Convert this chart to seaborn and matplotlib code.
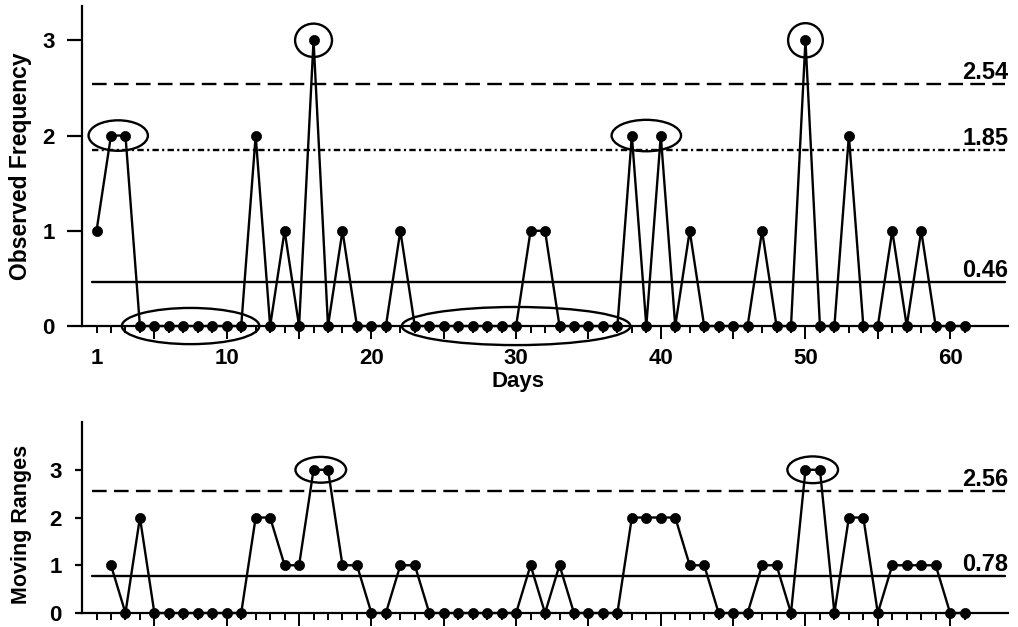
"""
Individuals (X) and moving range control charts for daily counts.
Saves the figure to out.png
"""

import matplotlib
matplotlib.use('Agg')
import matplotlib.pyplot as plt
from matplotlib.patches import Ellipse
from matplotlib.ticker import FixedLocator, FuncFormatter
import seaborn as sns

# ── data ───────────────────────────────────────────────────
days = list(range(1, 62))
observed = [1, 2, 2, 0, 0, 0, 0, 0, 0, 0, 0, 2, 0, 1, 0, 3, 0, 1, 0, 0,
            0, 1, 0, 0, 0, 0, 0, 0, 0, 0, 1, 1, 0, 0, 0, 0, 0, 2, 0, 2,
            0, 1, 0, 0, 0, 0, 1, 0, 0, 3, 0, 0, 2, 0, 0, 1, 0, 1, 0, 0, 0]

mr_days = list(range(2, 62))
moving_ranges = [1, 0, 2, 0, 0, 0, 0, 0, 0, 0,
                 2, 2, 1, 1, 3, 3, 1, 1, 0, 0,
                 1, 1, 0, 0, 0, 0, 0, 0, 0, 1,
                 0, 1, 0, 0, 0, 0, 2, 2, 2, 2,
                 1, 1, 0, 0, 0, 1, 1, 0, 3, 3,
                 0, 2, 2, 0, 1, 1, 1, 1, 0, 0]

x_center = 0.46
x_ucl = 2.54
x_two_sigma = 1.85
mr_center = 0.78
mr_ucl = 2.56

x_ticklabels = [1, 10, 20, 30, 40, 50, 60]
y_ticks = [0, 1, 2, 3]

# flagged runs: (first day, last day, level, ring width in days, ring height)
x_rings = [(2, 3, 2, 4.1, 0.32), (4, 11, 0, 9.5, 0.38), (16, 16, 3, 2.55, 0.35),
           (23, 37, 0, 15.8, 0.40), (38, 40, 2, 4.8, 0.33), (50, 50, 3, 2.4, 0.36)]
mr_rings = [(16, 17, 3, 3.5, 0.54), (50, 51, 3, 3.5, 0.56)]

# ── style ──────────────────────────────────────────────────
sns.set_theme(style="ticks")
plt.rcParams.update({
    'font.family': ['Liberation Sans', 'DejaVu Sans'],
    'font.weight': 'bold',
    'axes.labelweight': 'bold',
    'axes.linewidth': 1.6,
    'axes.edgecolor': 'black',
    'text.color': 'black',
    'axes.labelcolor': 'black',
    'xtick.color': 'black',
    'ytick.color': 'black',
})

X_MAX = 64
LINE_START, LINE_END = 0.7, 63.8
LW = 1.7
DASHED = (6.2, 3.1)
DASHDOT = (2.7, 1.4, 0.9, 1.4)


def style_axis(ax, ymax, ytick_len, ytick_pad, show_labels):
    ax.set_xlim(0, X_MAX)
    ax.set_ylim(0, ymax)
    for side in ('top', 'right'):
        ax.spines[side].set_visible(False)
    ax.set_yticks(y_ticks)
    ax.tick_params(axis='y', length=ytick_len, width=1.6, pad=ytick_pad,
                   labelsize=16)
    major = [d for d in range(5, 61, 5)]
    minor = [d for d in range(1, 62) if d % 5]
    ax.xaxis.set_major_locator(FixedLocator(major))
    ax.xaxis.set_minor_locator(FixedLocator(minor))
    if show_labels:
        ax.xaxis.set_major_formatter(FuncFormatter(
            lambda v, p: f'{int(v)}' if int(v) in x_ticklabels else ''))
        ax.xaxis.set_minor_formatter(FuncFormatter(
            lambda v, p: f'{int(v)}' if int(v) in x_ticklabels else ''))
    else:
        ax.set_xticklabels([])
        ax.xaxis.set_minor_formatter(FuncFormatter(lambda v, p: ''))
    ax.tick_params(axis='x', which='major', length=9.5, width=1.4, pad=6,
                   labelsize=16)
    ax.tick_params(axis='x', which='minor', length=5, width=1.4, pad=10.5,
                   labelsize=16)
    ax.grid(False)


def limit_line(ax, value, dashes=None):
    kw = dict(color='black', linewidth=LW)
    if dashes is not None:
        kw['dashes'] = dashes
    ax.axhline(value, xmin=LINE_START / X_MAX, xmax=LINE_END / X_MAX, **kw)
    ax.text(X_MAX, value, f'{value:.2f}', ha='right', va='bottom',
            fontsize=17, fontweight='bold')


def rings(ax, specs):
    for first, last, level, w, h in specs:
        ax.add_patch(Ellipse(((first + last) / 2, level), w, h, fill=False,
                             edgecolor='black', linewidth=1.7, clip_on=False,
                             zorder=2))


def series(ax, x, y):
    sns.lineplot(x=x, y=y, ax=ax, color='black', linewidth=LW, marker='o',
                 markersize=7.3, markeredgecolor='black', markeredgewidth=0.5,
                 clip_on=False, zorder=3)


fig = plt.figure(figsize=(10.18, 6.27), dpi=100)
ax1 = fig.add_axes([0.0806, 0.480, 0.9096, 0.5104])
ax2 = fig.add_axes([0.0806, 0.0223, 0.9096, 0.3046])

# top: observed frequency
series(ax1, days, observed)
limit_line(ax1, x_ucl, DASHED)
limit_line(ax1, x_two_sigma, DASHDOT)
limit_line(ax1, x_center)
rings(ax1, x_rings)
style_axis(ax1, 3.36, 11, 8.5, True)
ax1.set_xlabel('Days', fontsize=16)
ax1.xaxis.set_label_coords(0.471, -0.14)
ax1.set_ylabel('Observed Frequency', fontsize=16.5)
ax1.yaxis.set_label_coords(-0.054, 0.5)

# bottom: moving ranges
series(ax2, mr_days, moving_ranges)
limit_line(ax2, mr_ucl, DASHED)
limit_line(ax2, mr_center)
rings(ax2, mr_rings)
style_axis(ax2, 4.0, 5, 9.5, False)
ax2.set_xlabel('')
ax2.set_ylabel('Moving Ranges', fontsize=15.5)
ax2.yaxis.set_label_coords(-0.054, 0.466)

fig.savefig('out.png', dpi=100, facecolor='white')
plt.close(fig)
